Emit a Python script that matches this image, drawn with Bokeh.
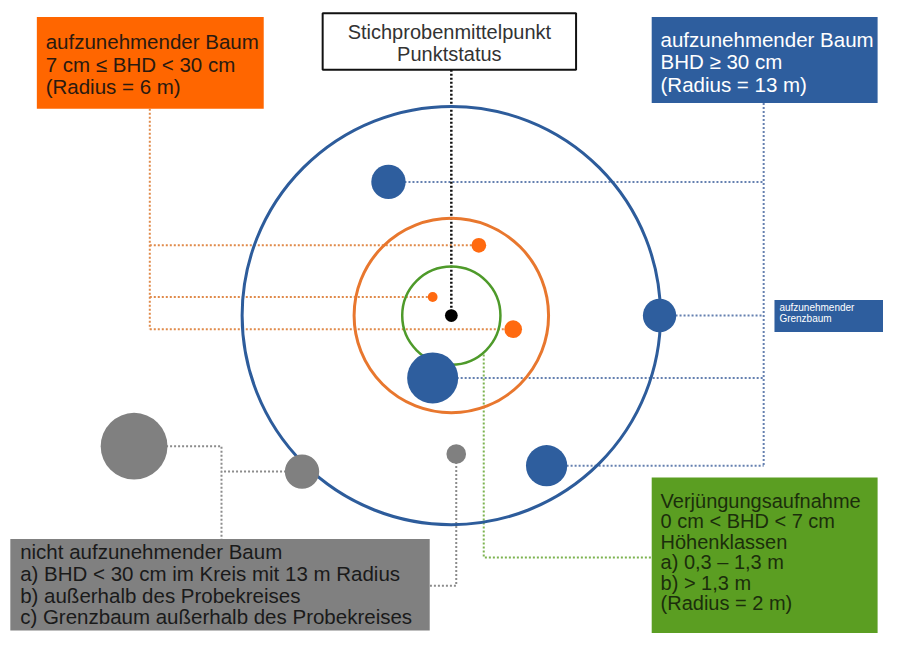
from bokeh.plotting import figure
from bokeh.models import Range1d
from bokeh.embed import file_html
from bokeh.resources import INLINE
from bokeh.core.properties import value

# ---- diagram data (pixel-like units, y grows downward) ----
center_x, center_y = 459, 323
ring_names = ["13 m", "6 m", "2 m"]
ring_radius = [213, 99, 50]
ring_colors = ["#2D5C9B", "#E8772E", "#4E9A2A"]

blue_x = [395, 671, 440, 556]
blue_y = [186, 323, 387, 477]
blue_r = [17.5, 17, 26, 21]

orange_x = [487, 440, 522]
orange_y = [251, 304, 337]
orange_r = [7.5, 5, 9]

grey_x = [136, 307, 464]
grey_y = [457, 483, 465]
grey_r = [34, 17.5, 10]

orange_label = ["aufzunehmender Baum", "7 cm \u2264 BHD < 30 cm", "(Radius = 6 m)"]
center_label = ["Stichprobenmittelpunkt", "Punktstatus"]
blue_label = ["aufzunehmender Baum", "BHD \u2265 30 cm", "(Radius = 13 m)"]
border_label = ["aufzunehmender", "Grenzbaum"]
green_label = ["Verj\u00fcngungsaufnahme", "0 cm < BHD < 7 cm", "H\u00f6henklassen",
               "a) 0,3 \u2013 1,3 m", "b) > 1,3 m", "(Radius = 2 m)"]
grey_label = ["nicht aufzunehmender Baum", "a) BHD < 30 cm im Kreis mit 13 m Radius",
              "b) au\u00dferhalb des Probekreises", "c) Grenzbaum au\u00dferhalb des Probekreises"]

FONT = value("Liberation Sans")

p = figure(width=883, height=633, x_range=Range1d(0, 899), y_range=Range1d(649, 0),
           x_axis_type=None, y_axis_type=None, toolbar_location=None,
           output_backend="svg", min_border=0)
p.grid.visible = False
p.outline_line_color = None
p.background_fill_color = "white"
p.border_fill_color = "white"

# ---- connector lines ----
obus = 152
oxs = [[obus, obus]] + [[obus, x] for x in orange_x]
oys = [[111, max(orange_y)]] + [[y, y] for y in orange_y]
p.multi_line(oxs, oys, line_color="#E08A4A", line_width=2, line_dash="2 2")

bbus = 777
bxs = [[bbus, bbus]] + [[x, bbus] for x in blue_x]
bys = [[105, max(blue_y)]] + [[y, y] for y in blue_y]
p.multi_line(bxs, bys, line_color="#6580B0", line_width=2, line_dash="2 2")

p.line([center_x, center_x], [71, center_y], line_color="#111111", line_width=2.5, line_dash="2 2")

gxs = [[grey_x[0], 225, 225], [grey_x[1], 225], [grey_x[2], grey_x[2], 437]]
gys = [[grey_y[0], grey_y[0], 552], [grey_y[1], grey_y[1]], [grey_y[2], 600, 600]]
p.multi_line(gxs, gys, line_color="#8C8C8C", line_width=2, line_dash="2 2")

p.line([492, 492, 663], [363, 571, 571], line_color="#7DB350", line_width=2, line_dash="2 2")

# ---- rings ----
p.circle([center_x] * 3, [center_y] * 3, radius=ring_radius, fill_color=None,
         line_color=ring_colors, line_width=[3, 3, 2.5])

# ---- trees ----
p.circle(blue_x, blue_y, radius=blue_r, fill_color="#2E5E9E", line_color=None)
p.circle(orange_x, orange_y, radius=orange_r, fill_color="#FF6A10", line_color=None)
p.circle(grey_x, grey_y, radius=grey_r, fill_color="#808080", line_color=None)
p.circle([center_x], [center_y], radius=6.5, fill_color="#000000", line_color=None)

# ---- boxes ----
p.quad(left=[37], right=[268], top=[17], bottom=[111], fill_color="#FF6600", line_color=None)
p.quad(left=[328], right=[586], top=[13], bottom=[71], fill_color="white", line_color="#111111", line_width=2)
p.quad(left=[663], right=[893], top=[17], bottom=[105], fill_color="#2E5E9E", line_color=None)
p.quad(left=[788], right=[905], top=[307], bottom=[340], fill_color="#2E5E9E", line_color=None)
p.quad(left=[663], right=[893], top=[489], bottom=[660], fill_color="#5B9E22", line_color=None)
p.quad(left=[10], right=[437], top=[552], bottom=[646], fill_color="#808080", line_color=None)

# ---- texts ----
def lines(x, y0, dy, texts, color, size, align="left"):
    p.text([x] * len(texts), [y0 + i * dy for i in range(len(texts))], text=texts,
           text_color=color, text_font=FONT, text_font_size=size,
           text_baseline="middle", text_align=align)

lines(46, 42, 23.3, orange_label, "#2A1A10", "20.5px")
lines(457, 32, 23.3, center_label, "#333333", "20px", align="center")
lines(672, 40, 23, blue_label, "#FFFFFF", "20.5px")
lines(793, 315, 11, border_label, "#FFFFFF", "10px")
lines(672, 513, 21, green_label, "#1B2E0C", "20px")
lines(20, 565, 22.3, grey_label, "#1A1A1A", "20.5px")

open("out.html", "w").write(file_html(p, INLINE))
